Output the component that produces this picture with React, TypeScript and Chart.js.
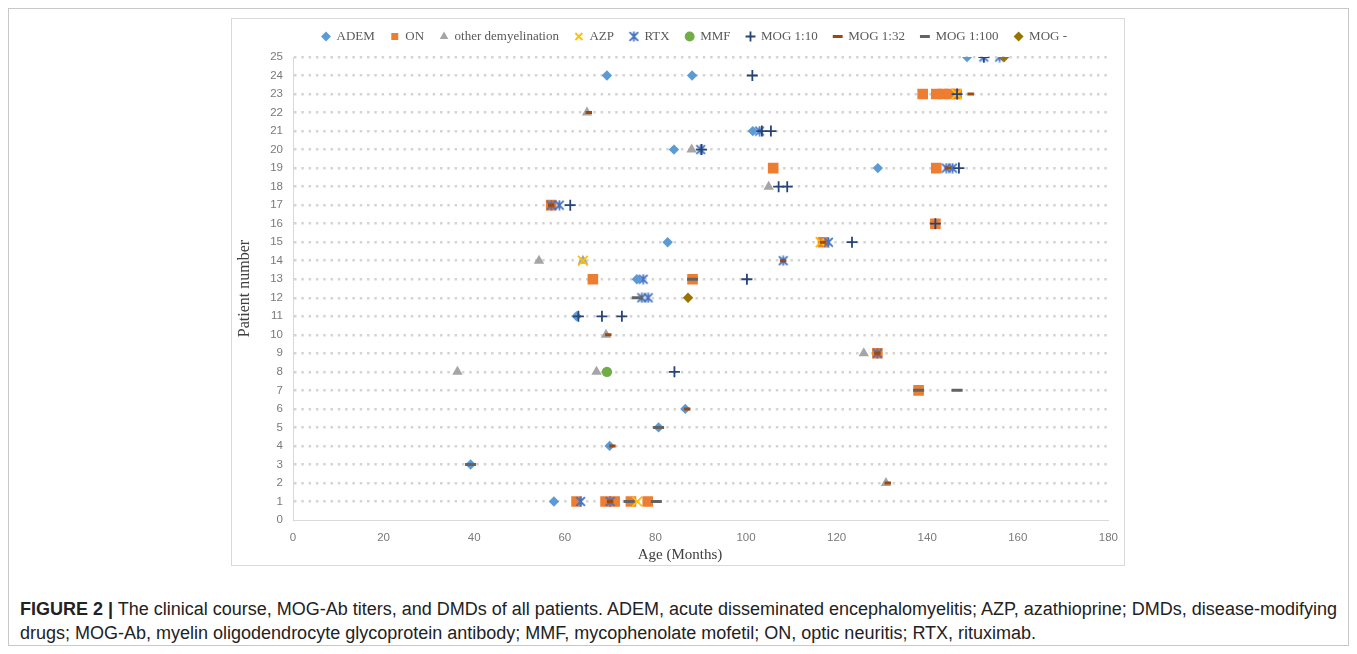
import { useEffect, useRef } from "react";
import { Chart, registerables } from "chart.js";

Chart.register(...registerables);

// ---------- data (age in months, patient number) ----------
const seriesNames = [
  "ADEM",
  "ON",
  "other demyelination",
  "AZP",
  "RTX",
  "MMF",
  "MOG 1:10",
  "MOG 1:32",
  "MOG 1:100",
  "MOG -",
];

const ademAge = [148.8, 69.3, 88.1, 101.5, 84.1, 129.1, 82.7, 75.9, 62.6, 86.6, 80.7, 69.9, 39.2, 57.6];
const ademPatient = [25, 24, 24, 21, 20, 19, 15, 13, 11, 6, 5, 4, 3, 1];

const onAge = [139, 142, 143.5, 145, 146.5, 106, 142, 57, 141.8, 117, 66.2, 88.2, 129, 138.1, 62.6, 69, 71, 74.6, 78.3];
const onPatient = [23, 23, 23, 23, 23, 19, 19, 17, 16, 15, 13, 13, 9, 7, 1, 1, 1, 1, 1];

const otherAge = [64.9, 88, 105, 54.3, 64, 69.1, 126, 36.3, 67, 130.9];
const otherPatient = [22, 20, 18, 14, 14, 10, 9, 8, 8, 2];

const azpAge = [146.5, 116.5, 64, 76];
const azpPatient = [23, 15, 14, 1];

const rtxAge = [152.5, 156, 103, 90, 144.2, 145.6, 57, 58.8, 118.2, 108.2, 77.3, 77, 78.4, 129, 63.5, 70];
const rtxPatient = [25, 25, 21, 20, 19, 19, 17, 17, 15, 14, 13, 12, 12, 9, 1, 1];

const mmfAge = [69.3];
const mmfPatient = [8];

const mog10Age = [152.5, 101.4, 146.6, 103.5, 105.5, 90.2, 147, 107.2, 109.1, 61.2, 141.8, 123.4, 100.2, 63, 68.2, 72.6, 84.2];
const mog10Patient = [25, 24, 23, 21, 21, 20, 19, 18, 18, 17, 16, 15, 13, 11, 11, 11, 8];

const mog32Age = [149.6, 65.3, 144.6, 57, 117, 108.2, 69.6, 129, 87, 70.5, 131.3, 70];
const mog32Patient = [23, 22, 19, 17, 15, 14, 10, 9, 6, 4, 2, 1];

const mog100Age = [88.2, 76, 138.1, 146.6, 80.7, 39.2, 74.2, 80.2];
const mog100Patient = [13, 12, 7, 7, 5, 3, 1, 1];

const mogNegAge = [157, 87.2];
const mogNegPatient = [25, 12];

const xTicks = [0, 20, 40, 60, 80, 100, 120, 140, 160, 180];
const yTicks = Array.from({ length: 26 }, (_, i) => i);

const xTitle = "Age (Months)";
const yTitle = "Patient number";

const seriesAges = [ademAge, onAge, otherAge, azpAge, rtxAge, mmfAge, mog10Age, mog32Age, mog100Age, mogNegAge];
const seriesPatients = [ademPatient, onPatient, otherPatient, azpPatient, rtxPatient, mmfPatient, mog10Patient, mog32Patient, mog100Patient, mogNegPatient];

// ---------- marker styles ----------
function makeStarMarker(color: string, size: number, lw: number): HTMLCanvasElement {
  const c = document.createElement("canvas");
  c.width = size;
  c.height = size;
  const g = c.getContext("2d")!;
  g.strokeStyle = color;
  g.lineWidth = lw;
  g.lineCap = "butt";
  const a = 1.2;
  const b = size - 1.2;
  g.beginPath();
  g.moveTo(a, a);
  g.lineTo(b, b);
  g.moveTo(b, a);
  g.lineTo(a, b);
  g.moveTo(size / 2, 0.5);
  g.lineTo(size / 2, size - 0.5);
  g.stroke();
  return c;
}

const SERIF = '"Liberation Serif", "DejaVu Serif", serif';

export default function App() {
  const ref = useRef<HTMLCanvasElement | null>(null);

  useEffect(() => {
    if (!ref.current) return;
    const star = makeStarMarker("#4472C4", 11, 1.8);

    const styles: any[] = [
      { pointStyle: "rectRot", radius: 5.2, bg: "#5B9BD5", border: "#5B9BD5", bw: 0 },
      { pointStyle: "rect", radius: 7.5, bg: "#ED7D31", border: "#ED7D31", bw: 0 },
      { pointStyle: "triangle", radius: 6, bg: "#A5A5A5", border: "#A5A5A5", bw: 0 },
      { pointStyle: "crossRot", radius: 7, bg: "#FFC000", border: "#FFC000", bw: 1.8 },
      { pointStyle: star, radius: 6, bg: "#4472C4", border: "#4472C4", bw: 1.8 },
      { pointStyle: "circle", radius: 5.2, bg: "#70AD47", border: "#70AD47", bw: 0 },
      { pointStyle: "cross", radius: 5.5, bg: "#264478", border: "#264478", bw: 1.8 },
      { pointStyle: "line", radius: 3.2, bg: "#9E480E", border: "#9E480E", bw: 3 },
      { pointStyle: "line", radius: 5.5, bg: "#636363", border: "#636363", bw: 3 },
      { pointStyle: "rectRot", radius: 5.2, bg: "#997300", border: "#997300", bw: 0 },
    ];

    const datasets = seriesNames.map((name, i) => ({
      label: name,
      data: seriesAges[i].map((x, j) => ({ x, y: seriesPatients[i][j] })),
      pointStyle: styles[i].pointStyle,
      pointRadius: styles[i].radius,
      pointBackgroundColor: styles[i].bg,
      pointBorderColor: styles[i].border,
      pointBorderWidth: styles[i].bw,
      backgroundColor: styles[i].bg,
      borderColor: styles[i].border,
      borderWidth: styles[i].bw,
      showLine: false,
      order: seriesNames.length - i,
    }));

    const tweakPlugin = {
      id: "layoutTweak",
      beforeInit(chart: any) {
        const legend = chart.legend;
        if (!legend) return;
        const origFit = legend.fit;
        legend.fit = function () {
          origFit.call(this);
          this.height = 43;
        };
      },
      afterLayout(chart: any) {
        if (chart.legend) chart.legend.left += 29;
      },
      afterDraw(chart: any) {
        const ctx = chart.ctx;
        ctx.save();
        ctx.font = `15px ${SERIF}`;
        ctx.fillStyle = "#404040";
        ctx.textAlign = "center";
        ctx.textBaseline = "middle";
        ctx.fillText(xTitle, 449, 541);
        ctx.restore();
      },
    };

    const tickFont = { family: '"Liberation Sans", Arial, sans-serif', size: 11.5 };

    const chart = new Chart(ref.current, {
      type: "scatter",
      data: { datasets },
      plugins: [tweakPlugin],
      options: {
        animation: false,
        responsive: false,
        maintainAspectRatio: false,
        layout: { padding: { left: 0, right: 0, top: 0, bottom: 0 } },
        plugins: {
          tooltip: { enabled: false },
          legend: {
            position: "top",
            labels: {
              usePointStyle: true,
              boxWidth: 8,
              boxHeight: 7,
              padding: 16,
              color: "#595959",
              font: { family: SERIF, size: 13 },
              sort: (a: any, b: any) => a.datasetIndex - b.datasetIndex,
            },
          },
        },
        scales: {
          x: {
            type: "linear",
            min: 0,
            max: 180,
            afterBuildTicks: (s: any) => {
              s.ticks = xTicks.map((v) => ({ value: v }));
            },
            ticks: { padding: 11, color: "#7a7a7a", font: tickFont },
            grid: { display: false, drawTicks: false },
            border: { display: true, color: "#d9d9d9", width: 1 },
            title: { display: false, text: xTitle },
            afterFit: (s: any) => {
              s.height = 55;
            },
          },
          y: {
            type: "linear",
            min: 0,
            max: 25,
            afterBuildTicks: (s: any) => {
              s.ticks = yTicks.map((v) => ({ value: v }));
            },
            ticks: { padding: 10, color: "#7a7a7a", font: tickFont },
            grid: {
              drawTicks: false,
              lineWidth: 2.5,
              color: (ctx: any) => (ctx.tick && ctx.tick.value === 0 ? "rgba(0,0,0,0)" : "#d4d4d4"),
            },
            border: { display: true, color: "#d9d9d9", width: 1, dash: [2.5, 4.8] },
            title: {
              display: true,
              text: yTitle,
              color: "#404040",
              font: { family: SERIF, size: 16 },
              padding: { top: 4.5, bottom: 0 },
            },
            afterFit: (s: any) => {
              s.width = 62;
            },
          },
        },
      } as any,
    });
    return () => chart.destroy();
  }, []);

  return (
    <div
      style={{
        position: "relative",
        width: 1341,
        height: 638,
        border: "1px solid #c8c8c8",
        boxSizing: "border-box",
        background: "#fff",
      }}
    >
      <div
        style={{
          position: "absolute",
          left: 222,
          top: 9,
          width: 894,
          height: 548,
          border: "1px solid #d9d9d9",
          boxSizing: "border-box",
        }}
      />
      <canvas ref={ref} width={898} height={561} style={{ position: "absolute", left: 222, top: 5, width: 898, height: 561 }} />
      <div
        style={{
          position: "absolute",
          left: 11,
          top: 588,
          fontFamily: '"Liberation Sans", Arial, sans-serif',
          fontSize: 18,
          lineHeight: "24px",
          color: "#222",
          whiteSpace: "nowrap",
        }}
      >
        <b>FIGURE 2 |</b> The clinical course, MOG-Ab titers, and DMDs of all patients. ADEM, acute disseminated encephalomyelitis; AZP, azathioprine; DMDs, disease-modifying
        <br />
        drugs; MOG-Ab, myelin oligodendrocyte glycoprotein antibody; MMF, mycophenolate mofetil; ON, optic neuritis; RTX, rituximab.
      </div>
    </div>
  );
}
